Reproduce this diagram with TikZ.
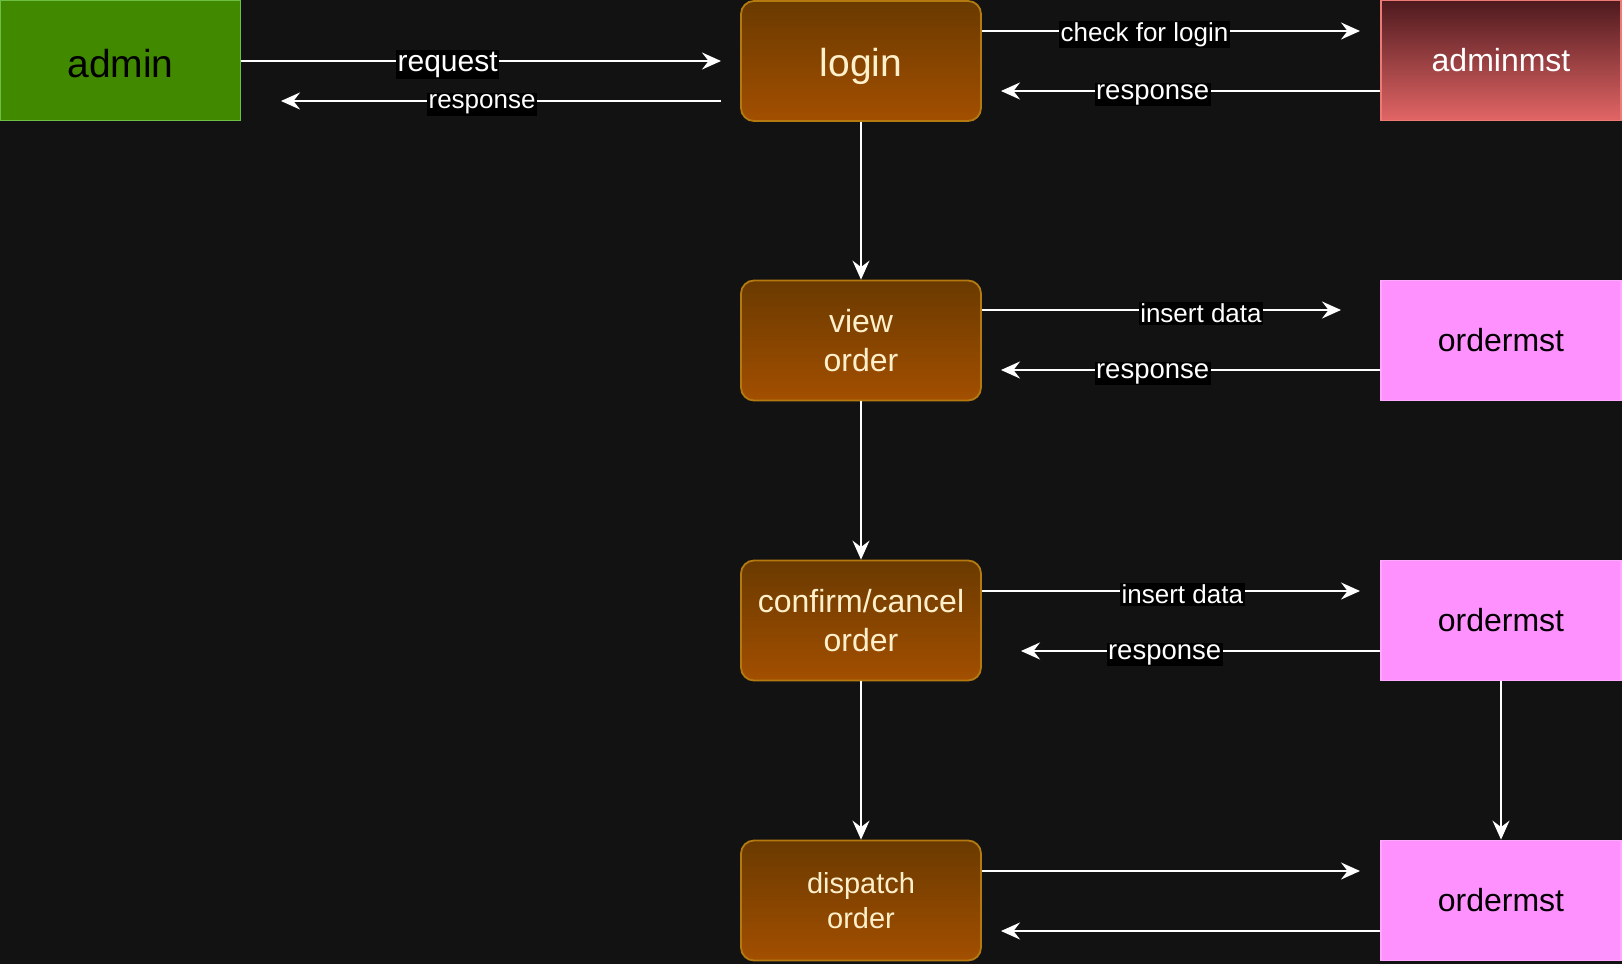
\documentclass[tikz,border=0pt]{standalone}
\usepackage{fontspec}
\setmainfont{Liberation Sans}
\usetikzlibrary{arrows.meta,positioning}
\definecolor{bg}{HTML}{121212}
\definecolor{admfill}{HTML}{418A00}
\definecolor{admdraw}{HTML}{6DBE45}
\definecolor{brtop}{HTML}{6A3A00}
\definecolor{brbot}{HTML}{A34F00}
\definecolor{brdraw}{HTML}{B47A10}
\definecolor{rdtop}{HTML}{4E1A1E}
\definecolor{rdbot}{HTML}{E26565}
\definecolor{rddraw}{HTML}{EE7A76}
\definecolor{pkfill}{HTML}{FF91FF}
\definecolor{pkdraw}{HTML}{FFA8FF}
\definecolor{cream}{HTML}{FFF0CC}
\tikzset{
  box/.style={rectangle, minimum width=240pt, minimum height=120pt, line width=1.8pt, align=center, inner sep=0pt},
  adminbox/.style={box, fill=admfill, draw=admdraw, text=black, font=\fontsize{39}{47}\selectfont},
  procbox/.style={box, rounded corners=13pt, top color=brtop, bottom color=brbot, draw=brdraw, text=cream, font=\fontsize{32}{38.4}\selectfont},
  dbred/.style={box, top color=rdtop, bottom color=rdbot, draw=rddraw, text=white, font=\fontsize{32}{38.4}\selectfont},
  dbpink/.style={box, fill=pkfill, draw=pkdraw, text=black, font=\fontsize{32}{38.4}\selectfont},
  arr/.style={draw=white, line width=1.8pt, -{Stealth[length=19pt,width=17pt,inset=6.5pt]}},
  lbl/.style={fill=black, text=white, inner sep=1.5pt, yshift=-3.5pt, font=\fontsize{26}{30}\selectfont},
}
\begin{document}
\begin{tikzpicture}[x=1pt,y=-1pt]
\fill[bg] (0,0) rectangle (1622,964);
\useasboundingbox (0,0) rectangle (1622,964);

\node[adminbox] (admin) at (120.5,60.5) {\raisebox{-16.5pt}[0pt][0pt]{admin}};
\node[procbox, font=\fontsize{39}{47}\selectfont] (login) at (861,61) {\raisebox{-15.5pt}[0pt][0pt]{login}};
\node[dbred] (adminmst) at (1501,60.5) {adminmst};
\node[procbox] (view) at (861,340.5) {view\\order};
\node[dbpink] (om1) at (1501,340.5) {ordermst};
\node[procbox] (conf) at (861,620.5) {confirm/cancel\\order};
\node[dbpink] (om2) at (1501,620.5) {ordermst};
\node[procbox, font=\fontsize{29}{35}\selectfont] (disp) at (861,900.5) {dispatch\\order};
\node[dbpink] (om3) at (1501,900.5) {ordermst};

% admin <-> login
\coordinate (reqend) at (721,61);
\coordinate (resstart) at (721,101);
\coordinate (resend) at (281,101);
\draw[arr] (admin.east |- reqend) -- (reqend) node[lbl, pos=0.43, font=\fontsize{30}{34}\selectfont] {request};
\draw[arr] (resstart) -- (resend) node[lbl, pos=0.543] {response};

% login <-> adminmst
\coordinate (chkend) at (1360,31);
\coordinate (r2end) at (1001,91);
\draw[arr] (login.east |- chkend) -- (chkend) node[lbl, pos=0.43] {check for login};
\draw[arr] (adminmst.west |- r2end) -- (r2end) node[lbl, pos=0.60, font=\fontsize{27.5}{32}\selectfont] {response};

% view <-> om1
\coordinate (ins1end) at (1341,310);
\coordinate (r3end) at (1001,370);
\draw[arr] (view.east |- ins1end) -- (ins1end) node[lbl, pos=0.61] {insert data};
\draw[arr] (om1.west |- r3end) -- (r3end) node[lbl, pos=0.60, font=\fontsize{27.5}{32}\selectfont] {response};

% conf <-> om2
\coordinate (ins2end) at (1360,591);
\coordinate (r4end) at (1021,651);
\draw[arr] (conf.east |- ins2end) -- (ins2end) node[lbl, pos=0.53] {insert data};
\draw[arr] (om2.west |- r4end) -- (r4end) node[lbl, pos=0.60, font=\fontsize{27.5}{32}\selectfont] {response};

% disp <-> om3
\coordinate (d1end) at (1360,871);
\coordinate (d2end) at (1001,931);
\draw[arr] (disp.east |- d1end) -- (d1end);
\draw[arr] (om3.west |- d2end) -- (d2end);

% vertical flow
\draw[arr] (login.south) -- (view.north);
\draw[arr] (view.south) -- (conf.north);
\draw[arr] (conf.south) -- (disp.north);
\draw[arr] (om2.south) -- (om3.north);
\end{tikzpicture}
\end{document}
